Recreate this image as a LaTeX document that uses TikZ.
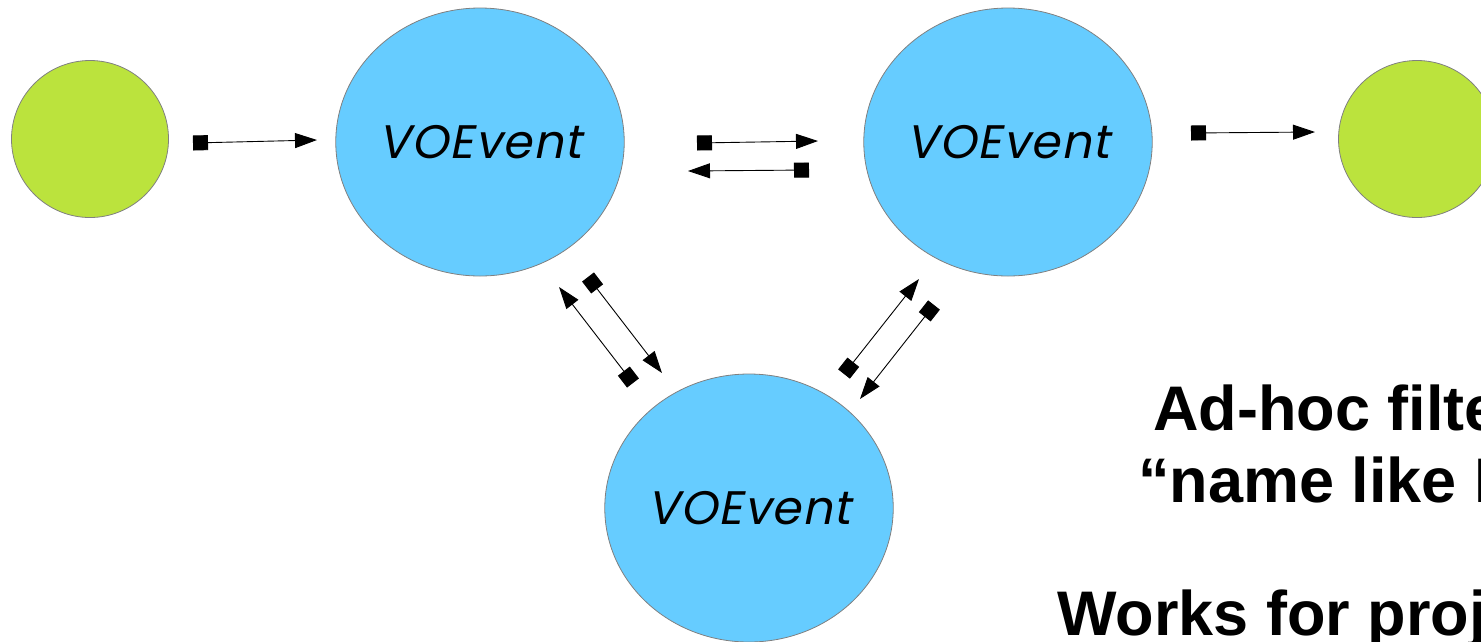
\documentclass[tikz,border=0pt]{standalone}
\usepackage{fontspec}
\setmainfont{Liberation Sans}
\newfontfamily\voefont[FakeSlant=0.2,LetterSpace=3]{Poppins}
\usetikzlibrary{arrows.meta,shapes.geometric}

\definecolor{peergreen}{HTML}{BBE33D}
\definecolor{brokerblue}{HTML}{66CCFF}

\tikzset{
  peer/.style={circle, draw=gray, line width=0.8pt, fill=peergreen, minimum size=157pt, inner sep=0pt},
  broker/.style={ellipse, draw=gray, line width=0.8pt, fill=brokerblue, minimum width=288pt, minimum height=268pt, inner sep=0pt, font=\voefont\fontsize{47}{52}\selectfont},
  flow/.style={line width=0.9pt, {Square[length=15pt,width=15pt]}-{Triangle[length=22pt,width=15pt]}},
  bigtext/.style={anchor=base west, inner sep=0pt, font=\bfseries\fontsize{63}{72}\selectfont}
}

\begin{document}
\begin{tikzpicture}[x=1pt,y=-1pt]
  \useasboundingbox (0,0) rectangle (1481,641);

  \node[peer] (src) at (90,139) {};
  \node[peer] (sink) at (1417,139) {};

  \node[broker] (left) at (480,142) {VOEvent};
  \node[broker] (right) at (1008,142) {VOEvent};
  \node[broker] (bottom) at (749,508) {VOEvent};

  \coordinate (a1) at (193,143);  \coordinate (b1) at (317,140);
  \coordinate (a2) at (697,143);  \coordinate (b2) at (818,141);
  \coordinate (a3) at (809,170);  \coordinate (b3) at (688,171);
  \coordinate (a4) at (1191,133); \coordinate (b4) at (1315,132);
  \coordinate (a5) at (588,277);  \coordinate (b5) at (662,373);
  \coordinate (a6) at (633,383);  \coordinate (b6) at (559,287);
  \coordinate (a7) at (844,374);  \coordinate (b7) at (919,279);
  \coordinate (a8) at (934,305);  \coordinate (b8) at (860,399);

  \draw[flow] (a1) -- (b1);
  \draw[flow] (a2) -- (b2);
  \draw[flow] (a3) -- (b3);
  \draw[flow] (a4) -- (b4);
  \draw[flow] (a5) -- (b5);
  \draw[flow] (a6) -- (b6);
  \draw[flow] (a7) -- (b7);
  \draw[flow] (a8) -- (b8);

  \node[bigtext] (adhoc) at (1153,430) {Ad-hoc filte};
  \node[bigtext] (namelike) at (1138,502) {``name like I};
  \node[bigtext] (works) at (1057,635) {Works for proj};

\end{tikzpicture}
\end{document}
